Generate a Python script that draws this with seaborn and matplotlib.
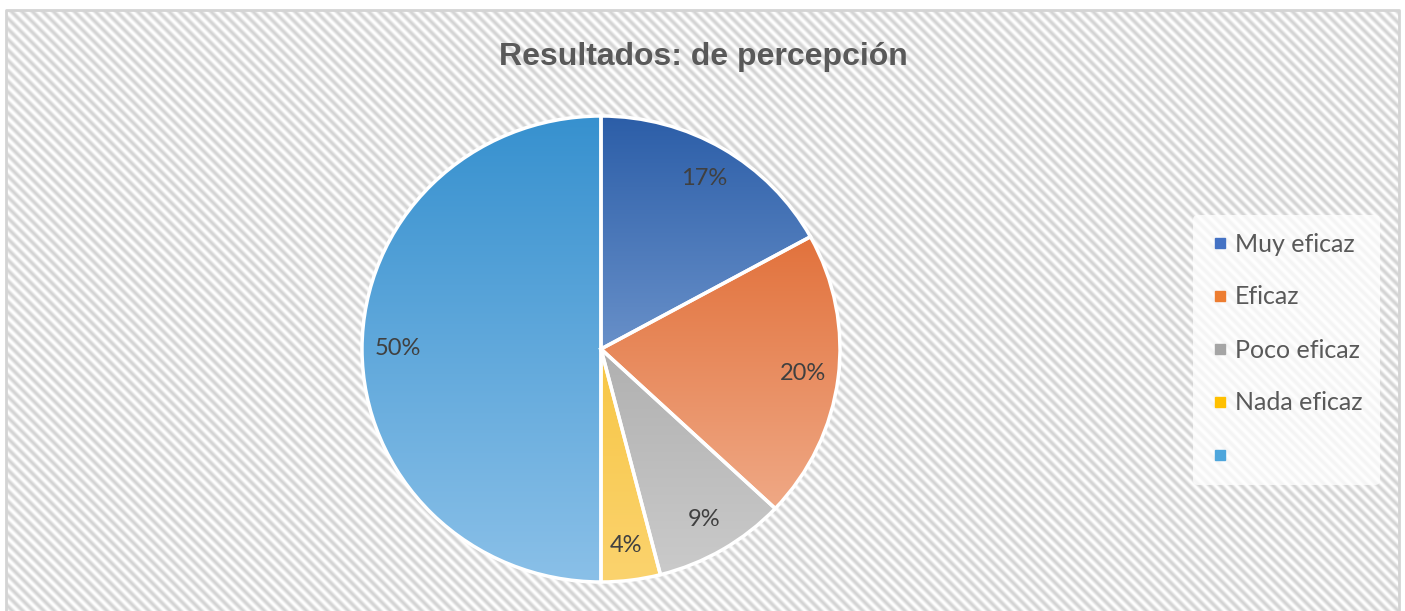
import numpy as np
import seaborn as sns
import matplotlib.pyplot as plt
from matplotlib.lines import Line2D

# --- DATI ---
categorias = ['Muy eficaz', 'Eficaz', 'Poco eficaz', 'Nada eficaz', '']
valores = [17, 20, 9, 4, 50]
# colori (alto -> basso) del gradiente di ogni fetta
colori_alto = ['#2c5ea8', '#dc5a1c', '#959595', '#f4b91c', '#3791cf']
colori_basso = ['#a4c2ea', '#f3b799', '#cbcbcb', '#fbd36e', '#8ac0e8']
colori_legenda = ['#4472c4', '#ed7d31', '#a5a5a5', '#ffc000', '#4ea6dc']
titolo = 'Resultados: de percepción'

W, H = 1405, 611

sns.set_theme(style="white")
plt.rcParams['font.family'] = ['Lato', 'DejaVu Sans']

fig = plt.figure(figsize=(W / 100, H / 100), dpi=100)

# --- Sfondo a righe diagonali ---
bg = fig.add_axes([0, 0, 1, 1])
bg.set_xlim(0, W)
bg.set_ylim(H, 0)
bg.axis('off')
yy, xx = np.mgrid[0:H, 0:W]
periodo = 10.5
t = 0.5 + 0.5 * np.cos(2 * np.pi * (xx - yy) / periodo)
grigio = np.array([212, 212, 212]) / 255.0
img = 1 - t[..., None] * (1 - grigio)
mask = (xx < 6) | (xx > 1399) | (yy < 10)
img[mask] = 1.0
bg.imshow(img, extent=(0, W, H, 0), interpolation='bilinear', aspect='auto')
bg.plot([6, 6, 1399, 1399], [H, 10, 10, H], color='#d4d4d4', lw=2)

# --- Titolo ---
fig.text(703 / W, 1 - 57 / H, titolo, ha='center', va='center',
         fontsize=23, fontweight='bold', color='#595959',
         family=['Liberation Sans', 'DejaVu Sans'])

# --- Torta ---
cx, cy, rx, ry = 601, 349, 239, 233
ax = fig.add_axes([(cx - rx) / W, (H - cy - ry) / H, 2 * rx / W, 2 * ry / H])
wedges, texts, autotexts = ax.pie(
    valores, startangle=90, counterclock=False, radius=1,
    autopct='%1.0f%%', pctdistance=0.85,
    wedgeprops=dict(edgecolor='white', linewidth=2.5),
    textprops=dict(fontsize=17, color='#404040'))
ax.set_aspect('auto')
ax.set_xlim(-1, 1)
ax.set_ylim(-1, 1)

grad = np.linspace(0, 1, 256)[:, None]
for w, ca, cb in zip(wedges, colori_alto, colori_basso):
    cmap = sns.blend_palette([ca, cb], n_colors=256, as_cmap=True)
    w.set_facecolor('none')
    w.set_zorder(2)
    im = ax.imshow(grad, cmap=cmap, extent=(-1, 1, -1, 1), origin='upper',
                   aspect='auto', zorder=1)
    im.set_clip_path(w)
for t_ in autotexts:
    t_.set_zorder(3)

# --- Legenda ---
handles = [Line2D([0], [0], marker='s', linestyle='none', markersize=7,
                  markerfacecolor=c, markeredgecolor=c) for c in colori_legenda]
leg = fig.legend(handles, categorias, loc='center left',
                 bbox_to_anchor=(1180 / W, 1 - 350 / H), frameon=True,
                 fontsize=18, labelspacing=1.2, handletextpad=0.2,
                 handlelength=0.8, borderpad=0.7)
leg.get_frame().set_facecolor('white')
leg.get_frame().set_alpha(0.75)
leg.get_frame().set_edgecolor('none')
for txt in leg.get_texts():
    txt.set_color('#595959')

fig.savefig('out.png', dpi=100)
